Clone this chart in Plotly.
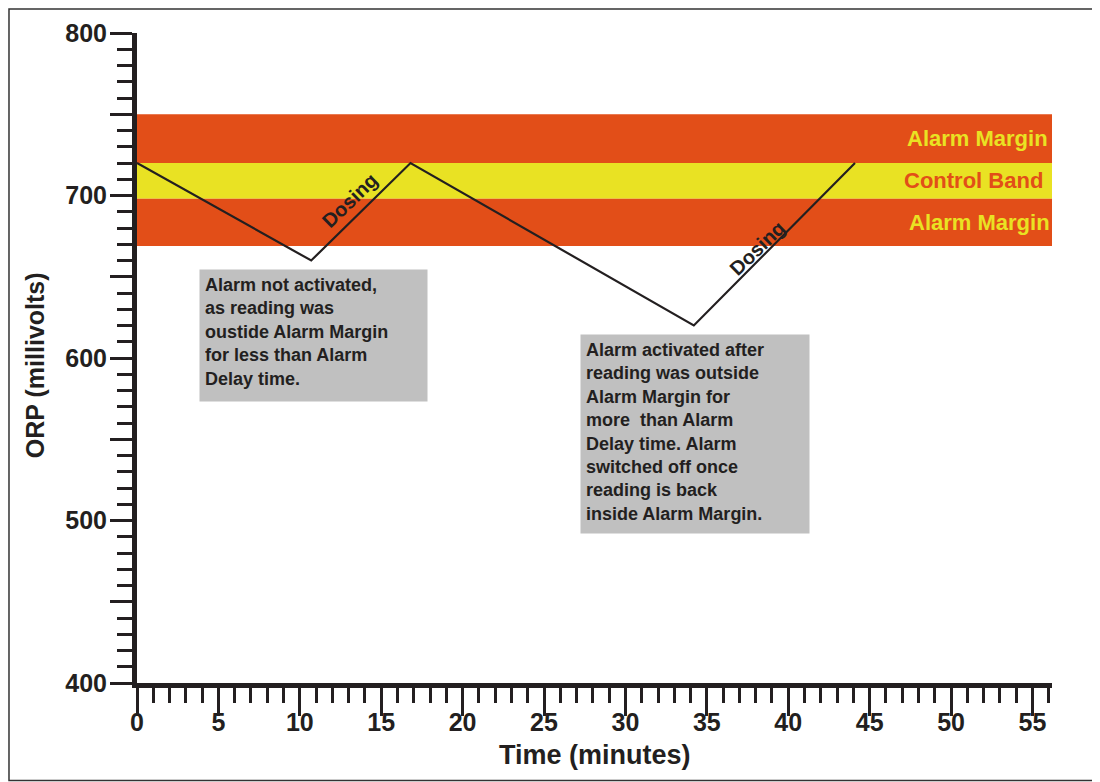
import plotly.graph_objects as go

# ORP reading over time
time_min = [0, 10.7, 16.8, 34.2, 44.1]
orp_mv = [720, 660, 720, 620, 720]

# bands (millivolts)
alarm_upper = [720, 750]
control_band = [698, 720]
alarm_lower = [669, 698]

x_range = [0, 56.2]
y_range = [400, 800]

x_tick_vals = list(range(0, 56, 5))
y_tick_vals = list(range(400, 801, 50))
y_tick_text = [str(v) if v % 100 == 0 else "" for v in y_tick_vals]

note_1 = ("Alarm not activated,<br>as reading was<br>oustide Alarm Margin<br>"
          "for less than Alarm<br>Delay time.")
note_2 = ("Alarm activated after<br>reading was outside<br>Alarm Margin for<br>"
          "more  than Alarm<br>Delay time. Alarm<br>switched off once<br>"
          "reading is back<br>inside Alarm Margin.")

ORANGE = "#e24e18"
YELLOW = "#e9e223"
INK = "#231f20"
FONT = "Liberation Sans"

fig = go.Figure()
fig.add_trace(go.Scatter(
    x=time_min, y=orp_mv, mode="lines",
    line=dict(color=INK, width=2.2), hoverinfo="skip", showlegend=False,
))

# colour bands
for (y0, y1), col in [(alarm_upper, ORANGE), (control_band, YELLOW), (alarm_lower, ORANGE)]:
  fig.add_shape(type="rect", xref="x", yref="y", x0=x_range[0], x1=x_range[1],
                y0=y0, y1=y1, fillcolor=col, line_width=0, layer="below")

# outer frame
fig.add_shape(type="rect", xref="paper", yref="paper", x0=-0.1399, x1=1.0492,
              y0=-0.1500, y1=1.0369, line=dict(color="#333333", width=1.5))

band_font = dict(family=FONT, size=22, weight="bold")
fig.add_annotation(x=56.05, y=sum(alarm_upper) / 2, text="Alarm Margin", showarrow=False,
                   xanchor="right", font=dict(band_font, color=YELLOW))
fig.add_annotation(x=55.8, y=sum(control_band) / 2, text="Control Band", showarrow=False,
                   xanchor="right", font=dict(band_font, color=ORANGE))
fig.add_annotation(x=56.2, y=sum(alarm_lower) / 2, text="Alarm Margin", showarrow=False,
                   xanchor="right", font=dict(band_font, color=YELLOW))

dose_font = dict(family=FONT, size=20, weight="bold", color=INK)
fig.add_annotation(x=13.1, y=697, text="Dosing", showarrow=False, textangle=-44, font=dose_font)
fig.add_annotation(x=38.1, y=668, text="Dosing", showarrow=False, textangle=-44, font=dose_font)

note_font = dict(family=FONT, size=18, weight="bold", color=INK)
fig.add_annotation(x=3.8, y=655, text=note_1, showarrow=False, xanchor="left", yanchor="top",
                   align="left", valign="top", bgcolor="#c0c0c0", borderpad=5,
                   width=217, height=121, font=note_font)
fig.add_annotation(x=27.2, y=615, text=note_2, showarrow=False, xanchor="left", yanchor="top",
                   align="left", valign="top", bgcolor="#c0c0c0", borderpad=5,
                   width=218, height=188, font=note_font)

# axis titles
fig.add_annotation(xref="paper", yref="paper", x=0.5, y=-0.1108, text="Time (minutes)",
                   xanchor="center", yanchor="middle", showarrow=False,
                   font=dict(family=FONT, size=27, weight="bold", color=INK))
fig.add_annotation(xref="paper", yref="paper", x=-0.1115, y=0.489, text="ORP (millivolts)",
                   xanchor="center", yanchor="middle", showarrow=False, textangle=-90,
                   font=dict(family=FONT, size=25, weight="bold", color=INK))

tick_font = dict(family=FONT, size=25, weight="bold", color=INK)

fig.update_xaxes(
    range=x_range, showgrid=False, zeroline=False, automargin=False,
    showline=True, linewidth=5, linecolor=INK,
    tickvals=x_tick_vals, ticks="outside", ticklen=28, tickwidth=3, tickcolor=INK,
    minor=dict(dtick=1, ticks="outside", ticklen=15, tickwidth=3, tickcolor=INK),
    tickfont=tick_font, ticklabelstandoff=-15,
)
fig.update_yaxes(
    range=y_range, showgrid=False, zeroline=False, automargin=False,
    showline=True, linewidth=5, linecolor=INK,
    tickvals=y_tick_vals, ticktext=y_tick_text,
    ticks="outside", ticklen=22, tickwidth=3, tickcolor=INK,
    minor=dict(dtick=10, ticks="outside", ticklen=15, tickwidth=3, tickcolor=INK),
    tickfont=tick_font, ticklabelstandoff=-2,
)

# page body adds an 8px margin, so the figure is 8px smaller than the window
fig.update_layout(
    width=1092, height=774,
    margin=dict(l=129, r=48, t=25, b=99),
    paper_bgcolor="white", plot_bgcolor="white",
    showlegend=False,
)

fig.write_html("out.html")
